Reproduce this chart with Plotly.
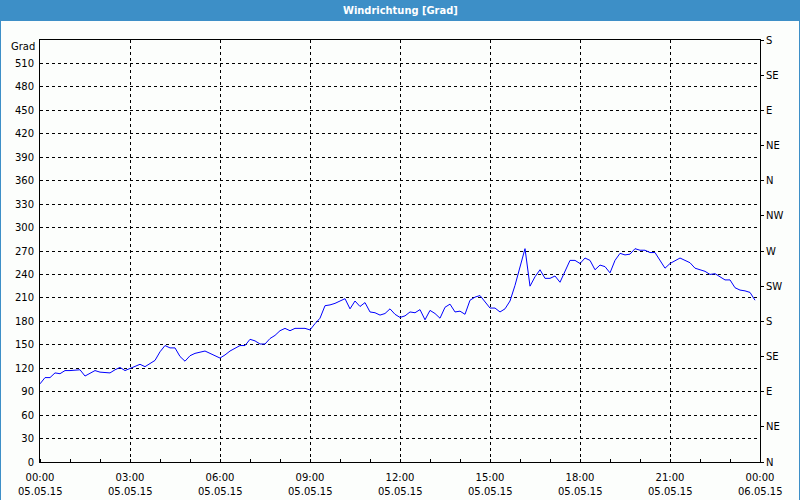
import plotly.graph_objects as go

# ---- data ----
times = ["00:00","00:10","00:20","00:30","00:40","00:50","01:00","01:20","01:30","01:40",
         "01:50","02:00","02:20","02:30","02:40","02:50","03:00","03:10","03:20","03:30",
         "03:40","03:50","04:00","04:10","04:20","04:30","04:40","04:50","05:00","05:10",
         "05:30","05:40","05:50","06:00","06:10","06:20","06:40","06:50","07:00","07:10",
         "07:20","07:30","07:40","07:50","08:00","08:10","08:20","08:30","08:50","09:00",
         "09:10","09:20","09:30","09:40","09:50","10:00","10:10","10:20","10:30","10:40",
         "10:50","11:00","11:10","11:20","11:30","11:40","11:50","12:00","12:10","12:20",
         "12:30","12:40","12:50","13:00","13:10","13:20","13:30","13:40","13:50","14:00",
         "14:10","14:20","14:30","14:40","14:50","15:00","15:10","15:20","15:30","15:40",
         "15:50","16:00","16:10","16:20","16:30","16:40","16:50","17:00","17:10","17:20",
         "17:30","17:40","17:50","18:00","18:10","18:20","18:30","18:40","18:50","19:00",
         "19:10","19:20","19:30","19:40","19:50","20:00","20:10","20:20","20:30","20:40",
         "20:50","21:00","21:10","21:20","21:30","21:40","21:50","22:00","22:10","22:20",
         "22:30","22:40","22:50","23:00","23:10","23:20","23:30","23:40","23:45","23:50"]
values = [100,108,108,114,113,117,117,118,110,114,
          117,115,114,118,121,117,120,122,125,122,
          126,130,141,149,146,146,135,129,136,139,
          142,139,135,133,137,142,149,149,157,155,
          151,151,158,162,168,171,168,171,171,169,
          177,184,200,201,203,206,209,196,206,199,
          204,192,191,188,190,196,189,185,187,192,
          191,195,182,194,190,184,198,202,192,193,
          189,207,211,213,205,197,197,192,196,206,
          226,249,273,225,237,246,235,235,238,230,
          244,258,258,254,261,258,246,252,250,242,
          258,267,265,266,273,271,271,268,268,258,
          248,254,257,261,258,255,248,246,244,240,
          241,237,233,233,223,220,219,217,212,207]

day = "2015-05-05"
tick_times = ["2015-05-05 00:00","2015-05-05 03:00","2015-05-05 06:00","2015-05-05 09:00",
              "2015-05-05 12:00","2015-05-05 15:00","2015-05-05 18:00","2015-05-05 21:00",
              "2015-05-06 00:00"]
tick_hours = ["00:00","03:00","06:00","09:00","12:00","15:00","18:00","21:00","00:00"]
tick_dates = ["05.05.15","05.05.15","05.05.15","05.05.15","05.05.15","05.05.15",
              "05.05.15","05.05.15","06.05.15"]
y_ticks = list(range(0, 511, 30))
compass_vals = [0,45,90,135,180,225,270,315,360,405,450,495,540]
compass_text = ["N","NE","E","SE","S","SW","W","NW","N","NE","E","SE","S"]
title_text = "Windrichtung [Grad]"
unit_text = "Grad"

# ---- figure ----
W, H = 800, 500
L, R, T, B = 40, 40, 40, 38
pw, ph = W - L - R, H - T - B
def px(x): return (x - L) / pw
def py(y): return (H - B - y) / ph

font = dict(family="DejaVu Sans, Liberation Sans, sans-serif", size=10, color="#000000")
blue_bar = "#3d8fc7"
bg = "#fcfefc"

x_full = [f"{day} {t}" for t in times]

fig = go.Figure()
fig.add_trace(go.Scatter(x=x_full, y=values, mode="lines",
                         line=dict(color="#0000ff", width=1), showlegend=False,
                         hoverinfo="skip"))
# invisible trace to activate right axis
fig.add_trace(go.Scatter(x=[x_full[0]], y=[0], yaxis="y2", mode="markers",
                         marker=dict(opacity=0), showlegend=False, hoverinfo="skip"))

fig.update_layout(
    width=W, height=H,
    margin=dict(l=L, r=R, t=T, b=B, pad=0),
    paper_bgcolor=bg, plot_bgcolor=bg,
    font=font,
    xaxis=dict(type="date", range=["2015-05-05 00:00", "2015-05-06 00:00"],
               tickvals=tick_times, ticktext=tick_hours, ticks="",
               showgrid=True, gridcolor="#000000", griddash="3px,3px", gridwidth=1,
               showline=True, linecolor="#000000", linewidth=1, mirror=True,
               zeroline=False, tickfont=font, ticklabelstandoff=6,
               minor=dict(dtick=3600000, ticks="inside", ticklen=3,
                          tickcolor="#000000", showgrid=False)),
    yaxis=dict(range=[0, 540], tickvals=y_ticks, ticks="",
               showgrid=True, gridcolor="#000000", griddash="3px,3px", gridwidth=1,
               showline=True, linecolor="#000000", linewidth=1, mirror=True,
               zeroline=False, tickfont=font, ticklabelstandoff=3),
    yaxis2=dict(range=[0, 540], overlaying="y", side="right",
                tickvals=compass_vals, ticktext=compass_text,
                ticks="outside", ticklen=3, tickcolor="#000000",
                showgrid=False, zeroline=False, showline=False,
                tickfont=font, ticklabelstandoff=0),
)

shapes = [
    dict(type="rect", xref="paper", yref="paper", x0=px(0), x1=px(W), y0=py(21), y1=py(0),
         fillcolor=blue_bar, line=dict(width=0), layer="below"),
    dict(type="line", xref="paper", yref="paper", x0=px(0.5), x1=px(0.5), y0=py(H), y1=py(0),
         line=dict(color=blue_bar, width=1)),
    dict(type="line", xref="paper", yref="paper", x0=px(W - 0.5), x1=px(W - 0.5), y0=py(H), y1=py(0),
         line=dict(color=blue_bar, width=1)),
]
fig.update_layout(shapes=shapes)

annotations = [
    dict(text=f"<b>{title_text}</b>", xref="paper", yref="paper", x=px(W / 2), y=py(10.5),
         showarrow=False, xanchor="center", yanchor="middle",
         font=dict(family="Liberation Sans Narrow, DejaVu Sans Condensed, Liberation Sans, sans-serif",
                   size=11, color="#ffffff")),
    dict(text=unit_text, xref="paper", yref="paper", x=px(37), y=py(46),
         showarrow=False, xanchor="right", yanchor="middle", font=font),
]
for tv, td in zip(tick_times, tick_dates):
    annotations.append(dict(text=td, x=tv, xref="x", yref="paper", y=0,
                            yanchor="middle", xanchor="center", yshift=-29,
                            showarrow=False, font=font))
fig.update_layout(annotations=annotations)

fig.write_html("out.html")
